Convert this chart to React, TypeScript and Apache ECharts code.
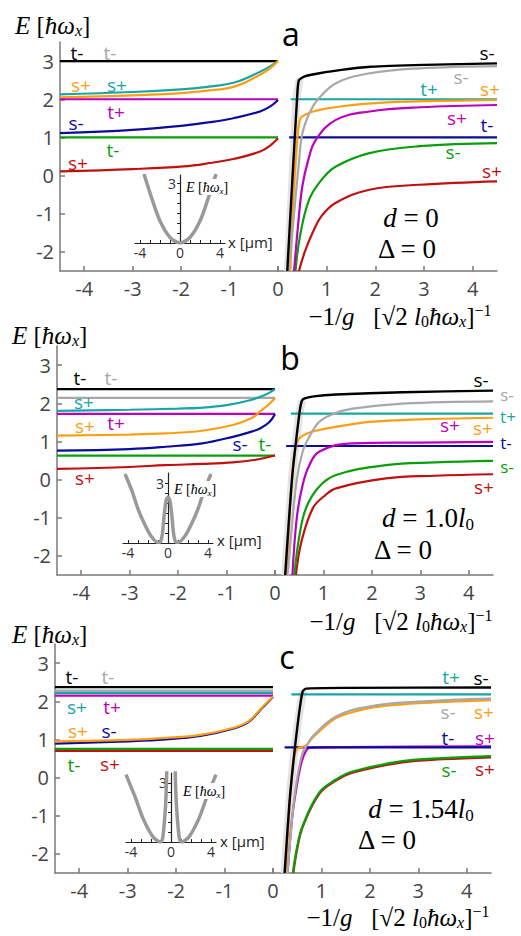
import React, { useEffect, useRef } from 'react';
import * as echarts from 'echarts';

type P = [number, number][];

// ---------- tick values ----------
const yTicks = [-2, -1, 0, 1, 2, 3];
const xTicksLeft = [-4, -3, -2, -1, 0];
const xTicksRight = [0, 1, 2, 3, 4];
const xLabelsRight = [1, 2, 3, 4];
const insetXTicks = [-4, -3, -2, -1, 0, 1, 2, 3, 4];
const insetXLabels = [-4, 0, 4];
const insetYTicks = [0.5, 1, 1.5, 2, 2.5, 3];
const insetYLabels = [3];

// ---------- panel a (d = 0) ----------
const aL_tBlack: P = [[-4.5, 3], [0, 3]];
const aL_tGray: P = [[-4.5, 3], [0, 3]];
const aL_sTeal: P = [[-4.5, 2.13], [-3, 2.19], [-2, 2.26], [-1.5, 2.32], [-0.9, 2.44], [-0.37, 2.72], [-0.15, 2.87], [0, 3]];
const aL_sOrange: P = [[-4.5, 2.05], [-3, 2.1], [-2, 2.16], [-1.5, 2.22], [-0.9, 2.33], [-0.37, 2.64], [-0.15, 2.82], [0, 3]];
const aL_tMagenta: P = [[-4.5, 2], [0, 2]];
const aL_sBlue: P = [[-4.5, 1.11], [-3, 1.2], [-1.95, 1.31], [-1.4, 1.4], [-0.9, 1.51], [-0.37, 1.68], [-0.15, 1.82], [0, 1.98]];
const aL_tGreen: P = [[-4.5, 1], [0, 1]];
const aL_sRed: P = [[-4.5, 0.11], [-3, 0.17], [-1.95, 0.24], [-1.4, 0.33], [-0.9, 0.44], [-0.37, 0.63], [-0.15, 0.8], [0, 0.98]];

const aR_shade: P = [[0.2, -2.5], [0.3, 0], [0.38, 2], [0.45, 2.55]];
const aR_sBlack: P = [[0.19, -2.5], [0.3, 0], [0.4, 2.2], [0.43, 2.5], [0.55, 2.6], [0.85, 2.68], [1.3, 2.77], [1.9, 2.85], [3, 2.9], [4.5, 2.94]];
const aR_sGray: P = [[0.22, -2.5], [0.33, -1], [0.42, 0.2], [0.5, 1.1], [0.65, 1.65], [0.81, 1.98], [1.19, 2.42], [1.88, 2.68], [2.91, 2.81], [4.5, 2.87]];
const aR_tTeal: P = [[0.26, 2], [4.5, 2]];
const aR_sOrange: P = [[0.25, -2.5], [0.32, -0.5], [0.4, 1.0], [0.46, 1.5], [0.6, 1.62], [0.85, 1.72], [1.4, 1.83], [2, 1.9], [3, 1.95], [4.5, 1.98]];
const aR_sMagenta: P = [[0.33, -2.5], [0.42, -1.2], [0.5, -0.28], [0.62, 0.4], [0.78, 0.94], [1.19, 1.46], [1.88, 1.68], [2.91, 1.79], [4.5, 1.85]];
const aR_tBlue: P = [[0.23, 1], [4.5, 1]];
const aR_sGreen: P = [[0.36, -2.5], [0.45, -1.6], [0.64, -0.63], [0.9, -0.1], [1.19, 0.24], [1.88, 0.59], [2.91, 0.77], [4.5, 0.85]];
const aR_sRed: P = [[0.43, -2.5], [0.55, -2.0], [0.71, -1.5], [0.9, -1.05], [1.19, -0.71], [1.88, -0.37], [2.91, -0.24], [4.5, -0.15]];

// ---------- panel b (d = 1.0 l0) ----------
const bL_tBlack: P = [[-4.5, 2.37], [0, 2.37]];
const bL_tGray: P = [[-4.5, 2.14], [0, 2.14]];
const bL_sTeal: P = [[-4.5, 1.8], [-3, 1.83], [-2, 1.86], [-1.56, 1.88], [-1, 1.95], [-0.52, 2.08], [-0.2, 2.22], [0, 2.37]];
const bL_tMagenta: P = [[-4.5, 1.72], [0, 1.72]];
const bL_sOrange: P = [[-4.5, 1.15], [-3, 1.18], [-2.26, 1.21], [-1.5, 1.28], [-0.87, 1.43], [-0.5, 1.6], [-0.31, 1.78], [-0.12, 1.98], [0, 2.14]];
const bL_sBlue: P = [[-4.5, 0.76], [-3, 0.8], [-2.26, 0.86], [-1.5, 0.95], [-0.87, 1.12], [-0.5, 1.25], [-0.31, 1.34], [-0.12, 1.5], [0, 1.72]];
const bL_tGreen: P = [[-4.5, 0.63], [0, 0.63]];
const bL_sRed: P = [[-4.5, 0.28], [-3, 0.33], [-2.26, 0.38], [-1.5, 0.41], [-0.87, 0.45], [-0.4, 0.52], [0, 0.63]];

const bR_shade: P = [[0.21, -2.5], [0.35, 0], [0.5, 1.7], [0.56, 2.08]];
const bR_sBlack: P = [[0.21, -2.5], [0.35, 0], [0.5, 1.7], [0.55, 2.05], [0.6, 2.12], [0.8, 2.18], [1.26, 2.23], [2.63, 2.29], [4.5, 2.33]];
const bR_sGray: P = [[0.26, -2.5], [0.33, -1.5], [0.45, 0], [0.57, 0.73], [0.7, 1.1], [0.91, 1.51], [1.2, 1.72], [1.6, 1.86], [2.63, 1.99], [4.5, 2.05]];
const bR_tTeal: P = [[0.33, 1.73], [4.5, 1.73]];
const bR_sOrange: P = [[0.24, -2.5], [0.3, -1], [0.38, 0.5], [0.45, 0.95], [0.5, 1.08], [0.65, 1.2], [0.91, 1.3], [1.94, 1.51], [3, 1.58], [4.5, 1.62]];
const bR_sMagenta: P = [[0.36, -2.5], [0.45, -1.0], [0.57, -0.14], [0.7, 0.35], [0.91, 0.73], [1.6, 0.95], [2.98, 0.97], [4.5, 0.99]];
const bR_tBlue: P = [[0.23, 0.88], [4.5, 0.88]];
const bR_sGreen: P = [[0.4, -2.5], [0.5, -1.5], [0.64, -0.75], [0.9, -0.2], [1.26, 0.12], [2.29, 0.38], [3.3, 0.45], [4.5, 0.49]];
const bR_sRed: P = [[0.43, -2.5], [0.55, -1.6], [0.78, -0.75], [1.0, -0.45], [1.26, -0.23], [2.29, 0.03], [3.3, 0.1], [4.5, 0.14]];

// ---------- panel c (d = 1.54 l0) ----------
const cL_tBlack: P = [[-4.5, 2.37], [0, 2.37]];
const cL_tGray: P = [[-4.5, 2.28], [0, 2.28]];
const cL_sTeal: P = [[-4.5, 2.22], [0, 2.22]];
const cL_tMagenta: P = [[-4.5, 2.15], [0, 2.15]];
const cL_sOrange: P = [[-4.5, 0.95], [-3, 0.99], [-2.21, 1.04], [-1.5, 1.12], [-0.83, 1.3], [-0.5, 1.48], [-0.27, 1.78], [-0.1, 2.0], [0, 2.12]];
const cL_sBlue: P = [[-4.5, 0.89], [-3, 0.95], [-2.21, 1.0], [-1.5, 1.09], [-0.83, 1.28], [-0.5, 1.46], [-0.27, 1.76], [-0.1, 1.98], [0, 2.12]];
const cL_tGreen: P = [[-4.5, 0.75], [0, 0.75]];
const cL_sRed: P = [[-4.5, 0.7], [0, 0.7]];

const cR_shade: P = [[0.24, -2.5], [0.35, -0.5], [0.5, 1.3], [0.62, 2.28]];
const cR_sBlack: P = [[0.24, -2.5], [0.35, -0.5], [0.5, 1.3], [0.61, 2.25], [0.68, 2.33], [1.5, 2.35], [4.5, 2.36]];
const cR_tTeal: P = [[0.38, 2.18], [4.5, 2.18]];
const cR_sOrange: P = [[0.27, -2.5], [0.33, -1], [0.4, 0.2], [0.46, 0.65], [0.52, 0.77], [0.6, 0.8], [0.7, 0.86], [0.82, 1.05], [1.3, 1.56], [1.98, 1.82], [3, 1.95], [4.5, 2.03]];
const cR_sGray: P = [[0.3, -2.5], [0.4, -1], [0.5, 0], [0.61, 0.64], [0.7, 0.85], [0.82, 1.08], [1.3, 1.6], [1.98, 1.86], [3, 1.99], [4.5, 2.07]];
const cR_tBlue: P = [[0.24, 0.79], [4.5, 0.79]];
const cR_sMagenta: P = [[0.3, -2.5], [0.4, -1], [0.52, 0], [0.6, 0.45], [0.68, 0.7], [0.75, 0.78], [1.5, 0.8], [4.5, 0.82]];
const cR_sGreen: P = [[0.41, -2.5], [0.5, -1.8], [0.61, -1.27], [0.95, -0.4], [1.3, -0.05], [1.64, 0.16], [2.67, 0.43], [3.5, 0.51], [4.5, 0.56]];
const cR_sRed: P = [[0.42, -2.5], [0.51, -1.8], [0.62, -1.27], [0.96, -0.42], [1.3, -0.08], [1.64, 0.13], [2.67, 0.4], [3.5, 0.48], [4.5, 0.53]];

// ---------- inset potentials ----------
const insetA: P = [[-3.6, 3.45], [-2.8, 2.2], [-2, 1.1], [-1, 0.28], [0, 0], [1, 0.28], [2, 1.1], [2.8, 2.2], [3.6, 3.45]];
const insetB: P = [[-4.3, 3.45], [-3.6, 2.6], [-3, 1.7], [-2.3, 0.9], [-1.7, 0.35], [-1.0, 0.02], [-0.75, 0.06], [-0.55, 0.5], [-0.4, 1.3], [-0.2, 2.1], [0, 2.3], [0.2, 2.1], [0.4, 1.3], [0.55, 0.5], [0.75, 0.06], [1.0, 0.02], [1.7, 0.35], [2.3, 0.9], [3, 1.7], [3.6, 2.6], [4.3, 3.45]];
const insetC: P = [[-4.5, 3.42], [-3.6, 2.3], [-2.8, 1.2], [-1.8, 0.26], [-1.05, 0], [-0.85, 0.15], [-0.7, 0.8], [-0.55, 1.8], [-0.45, 3.0], [-0.38, 4.5], [0, 8], [0.38, 4.5], [0.45, 3.0], [0.55, 1.8], [0.7, 0.8], [0.85, 0.15], [1.05, 0], [1.8, 0.26], [2.8, 1.2], [3.6, 2.3], [4.5, 3.42]];

const C = {
  black: '#000000', gray: '#a8a8a8', teal: '#17a6a6', orange: '#ff9d12',
  magenta: '#bd00bd', blue: '#0b0b9c', green: '#0a9f0a', red: '#c21010',
};
const AX = '#7a7a7a';

function ln(data: P, color: string, g: number, w = 2.2, z = 3, smooth = 0.4): any {
  return {
    type: 'line', data, xAxisIndex: g, yAxisIndex: g, showSymbol: false,
    smooth, silent: true, clip: true, z,
    lineStyle: { color, width: w }, itemStyle: { color },
  };
}

const serif = 'Liberation Serif';
function mathRich(size: number) {
  const sm = Math.round(size * 0.62);
  return {
    r: { fontFamily: serif, fontSize: size, lineHeight: size + 2, fill: '#000' },
    i: { fontFamily: serif, fontSize: size, fontStyle: 'italic', lineHeight: size + 2, fill: '#000' },
    s: { fontFamily: serif, fontSize: sm, fontStyle: 'italic', lineHeight: sm, verticalAlign: 'bottom', fill: '#000' },
    n: { fontFamily: serif, fontSize: sm, lineHeight: sm, verticalAlign: 'bottom', fill: '#000' },
    p: { fontFamily: serif, fontSize: sm, lineHeight: sm, verticalAlign: 'top', fill: '#000' },
  };
}

function txt(x: number, y: number, s: string, color: string, size = 19, align = 'center'): any {
  return {
    type: 'text', x, y, z: 20, silent: true,
    style: { text: s, fill: color, fontFamily: 'Open Sans', fontSize: size, align, verticalAlign: 'middle' },
  };
}
function math(x: number, y: number, s: string, size: number, align = 'center', bg = false): any {
  return {
    type: 'text', x, y, z: 20, silent: true,
    style: {
      text: s, align, verticalAlign: 'middle', rich: mathRich(size),
      backgroundColor: bg ? '#ffffff' : undefined, padding: bg ? [0, 1, 0, 1] : undefined,
    },
  };
}

const E_LABEL = '{i|E}{r| [}{i|ħω}{s|x}{r|]}';
const X_TITLE = '{r|−1/}{i|g}{r|   [√2 }{i|l}{n|0}{i|ħω}{s|x}{r|]}{p|−1}';

export default function App() {
  const ref = useRef<HTMLDivElement>(null);
  useEffect(() => {
    if (!ref.current) return;
    const chart = echarts.init(ref.current, undefined, { renderer: 'svg' });

    const grids = [
      { left: 60, top: 42, width: 218, height: 229 },
      { left: 278, top: 42, width: 219, height: 229 },
      { left: 57, top: 346, width: 218, height: 229 },
      { left: 275, top: 346, width: 218, height: 229 },
      { left: 55, top: 644, width: 218, height: 229 },
      { left: 273, top: 644, width: 218, height: 229 },
      { left: 135, top: 175, width: 90, height: 68 },
      { left: 123, top: 473, width: 90, height: 70 },
      { left: 126, top: 773, width: 90, height: 69 },
    ];

    const tickLabel = { fontSize: 20, color: '#454545', fontFamily: 'Open Sans' };
    const xAxes: any[] = [];
    const yAxes: any[] = [];
    for (let p = 0; p < 3; p++) {
      const gl = p * 2, gr = p * 2 + 1;
      xAxes.push({
        gridIndex: gl, type: 'value', min: -4.5, max: 0,
        axisLine: { onZero: false, lineStyle: { color: AX, width: 1.5 } },
        axisTick: { inside: true, length: 5, customValues: xTicksLeft, lineStyle: { color: AX, width: 1.5 } },
        axisLabel: { ...tickLabel, margin: 7, customValues: xTicksLeft },
        splitLine: { show: false },
      });
      xAxes.push({
        gridIndex: gr, type: 'value', min: 0, max: 4.5,
        axisLine: { onZero: false, lineStyle: { color: AX, width: 1.5 } },
        axisTick: { inside: true, length: 5, customValues: xTicksRight, lineStyle: { color: AX, width: 1.5 } },
        axisLabel: { ...tickLabel, margin: 7, customValues: xLabelsRight },
        splitLine: { show: false },
      });
      yAxes.push({
        gridIndex: gl, type: 'value', min: -2.5, max: 3.5,
        axisLine: { show: true, onZero: false, lineStyle: { color: AX, width: 1.5 } },
        axisTick: { show: true, inside: true, length: 5, customValues: yTicks, lineStyle: { color: AX, width: 1.5 } },
        axisLabel: { ...tickLabel, margin: 6, customValues: yTicks },
        splitLine: { show: false },
      });
      yAxes.push({ gridIndex: gr, type: 'value', min: -2.5, max: 3.5, show: false });
    }
    const insetMax = [3.4, 3.5, 3.5];
    for (let k = 0; k < 3; k++) {
      const g = 6 + k;
      xAxes.push({
        gridIndex: g, type: 'value', min: -4.5, max: 4.5,
        axisLine: { onZero: false, lineStyle: { color: '#222', width: 1.2 } },
        axisTick: { inside: true, length: 3, customValues: insetXTicks, lineStyle: { color: '#222' } },
        axisLabel: { fontSize: 14, color: '#333', fontFamily: 'Open Sans', margin: 2, customValues: insetXLabels },
        splitLine: { show: false },
      });
      yAxes.push({
        gridIndex: g, type: 'value', min: 0, max: insetMax[k], offset: -45,
        axisLine: { show: true, onZero: false, lineStyle: { color: '#222', width: 1.2 } },
        axisTick: { show: true, inside: false, length: 3, customValues: insetYTicks, lineStyle: { color: '#222' } },
        axisLabel: { fontSize: 14, color: '#333', fontFamily: 'Open Sans', margin: 4, customValues: insetYLabels },
        splitLine: { show: false },
      });
    }

    const series: any[] = [
      // a left
      ln(aL_tGray, C.gray, 0), ln(aL_tBlack, C.black, 0),
      ln(aL_sTeal, C.teal, 0), ln(aL_sOrange, C.orange, 0),
      ln(aL_tMagenta, C.magenta, 0), ln(aL_sBlue, C.blue, 0),
      ln(aL_tGreen, C.green, 0), ln(aL_sRed, C.red, 0),
      // a right
      ln(aR_shade, '#e4e4e4', 1, 8, 1, 0.2),
      ln(aR_tTeal, C.teal, 1), ln(aR_tBlue, C.blue, 1),
      ln(aR_sRed, C.red, 1), ln(aR_sGreen, C.green, 1), ln(aR_sMagenta, C.magenta, 1),
      ln(aR_sOrange, C.orange, 1, 2.2, 3, 0.25), ln(aR_sGray, C.gray, 1), ln(aR_sBlack, C.black, 1, 2.4, 4, 0.2),
      // b left
      ln(bL_tGray, C.gray, 2), ln(bL_tBlack, C.black, 2),
      ln(bL_sTeal, C.teal, 2), ln(bL_tMagenta, C.magenta, 2), ln(bL_sOrange, C.orange, 2),
      ln(bL_sBlue, C.blue, 2), ln(bL_tGreen, C.green, 2), ln(bL_sRed, C.red, 2),
      // b right
      ln(bR_shade, '#e4e4e4', 3, 8, 1, 0.2),
      ln(bR_tTeal, C.teal, 3), ln(bR_tBlue, C.blue, 3),
      ln(bR_sRed, C.red, 3), ln(bR_sGreen, C.green, 3), ln(bR_sMagenta, C.magenta, 3),
      ln(bR_sOrange, C.orange, 3, 2.2, 3, 0.25), ln(bR_sGray, C.gray, 3), ln(bR_sBlack, C.black, 3, 2.4, 4, 0.2),
      // c left
      ln(cL_tBlack, C.black, 4), ln(cL_tGray, C.gray, 4), ln(cL_sTeal, C.teal, 4),
      ln(cL_tMagenta, C.magenta, 4), ln(cL_sBlue, C.blue, 4), ln(cL_sOrange, C.orange, 4),
      ln(cL_sRed, C.red, 4), ln(cL_tGreen, C.green, 4),
      // c right
      ln(cR_shade, '#e4e4e4', 5, 8, 1, 0.2),
      ln(cR_tTeal, C.teal, 5), ln(cR_sMagenta, C.magenta, 5, 2.2, 3, 0.25), ln(cR_tBlue, C.blue, 5),
      ln(cR_sRed, C.red, 5), ln(cR_sGreen, C.green, 5),
      ln(cR_sOrange, C.orange, 5, 2.2, 3, 0.25), ln(cR_sGray, C.gray, 5), ln(cR_sBlack, C.black, 5, 2.4, 4, 0.2),
      // insets
      ln(insetA, '#999999', 6, 3.5, 3, 0.3), ln(insetB, '#999999', 7, 3.5, 3, 0.25), ln(insetC, '#999999', 8, 3.5, 3, 0.25),
    ];

    const graphic: any[] = [
      // panel a
      math(15, 25, E_LABEL, 25, 'left'),
      txt(291, 33, 'a', '#000', 32),
      txt(77, 53, 't-', C.black), txt(110, 53, 't-', C.gray),
      txt(81, 85, 's+', C.orange), txt(117, 85, 's+', C.teal),
      txt(116, 112, 't+', C.magenta), txt(76, 123, 's-', C.blue),
      txt(113, 150, 't-', C.green), txt(78, 163, 's+', C.red),
      txt(487, 53, 's-', C.black), txt(461, 77, 's-', C.gray),
      txt(429, 89, 't+', C.teal), txt(490, 89, 's+', C.orange),
      txt(457, 118, 's+', C.magenta), txt(487, 125, 't-', C.blue),
      txt(453, 152, 's-', C.green), txt(492, 171, 's+', C.red),
      math(411, 218, '{i|d}{r| = 0}', 27),
      math(407, 249, '{r|Δ = 0}', 27),
      math(400, 316, X_TITLE, 25),
      // panel b
      math(12, 335, E_LABEL, 25, 'left'),
      txt(290, 357, 'b', '#000', 32),
      txt(80, 378, 't-', C.black), txt(111, 378, 't-', C.gray),
      txt(84, 402, 's+', C.teal), txt(85, 426, 's+', C.orange),
      txt(116, 423, 't+', C.magenta), txt(240, 444, 's-', C.blue),
      txt(265, 444, 't-', C.green), txt(85, 478, 's+', C.red),
      txt(481, 380, 's-', C.black), txt(507, 394, 's-', C.gray, 17),
      txt(508, 416, 't+', C.teal, 17), txt(483, 428, 's+', C.orange),
      txt(450, 425, 's+', C.magenta), txt(506, 442, 't-', C.blue, 17),
      txt(507, 466, 's-', C.green, 17), txt(484, 487, 's+', C.red),
      math(428, 518, '{i|d}{r| = 1.0}{i|l}{n|0}', 27),
      math(403, 550, '{r|Δ = 0}', 27),
      math(401, 621, X_TITLE, 25),
      // panel c
      math(12, 634, E_LABEL, 25, 'left'),
      txt(287, 656, 'c', '#000', 32),
      txt(72, 677, 't-', C.black), txt(108, 677, 't-', C.gray),
      txt(77, 707, 's+', C.teal), txt(112, 707, 't+', C.magenta),
      txt(78, 731, 's+', C.orange), txt(109, 731, 's-', C.blue),
      txt(74, 765, 't-', C.green), txt(110, 764, 's+', C.red),
      txt(451, 677, 't+', C.teal), txt(481, 678, 's-', C.black),
      txt(448, 712, 's-', C.gray), txt(484, 712, 's+', C.orange),
      txt(448, 738, 't-', C.blue), txt(485, 738, 's+', C.magenta),
      txt(449, 770, 's-', C.green), txt(485, 769, 's+', C.red),
      math(421, 809, '{i|d}{r| = 1.54}{i|l}{n|0}', 27),
      math(387, 840, '{r|Δ = 0}', 27),
      math(398, 917, X_TITLE, 25),
      // insets
      math(185, 187, E_LABEL, 14, 'left', true),
      math(173, 489, E_LABEL, 14, 'left', true),
      math(182, 791, E_LABEL, 14, 'left', true),
      txt(228, 242, 'x [µm]', '#222', 15, 'left'),
      txt(217, 540, 'x [µm]', '#222', 15, 'left'),
      txt(220, 841, 'x [µm]', '#222', 15, 'left'),
    ];

    chart.setOption({
      animation: false,
      backgroundColor: '#ffffff',
      grid: grids,
      xAxis: xAxes,
      yAxis: yAxes,
      series,
      graphic,
    });
    return () => chart.dispose();
  }, []);

  return (
    <div style={{ position: 'fixed', left: 0, top: 0, width: 521, height: 936, background: '#fff' }}>
      <div ref={ref} style={{ width: 521, height: 936 }} />
    </div>
  );
}
